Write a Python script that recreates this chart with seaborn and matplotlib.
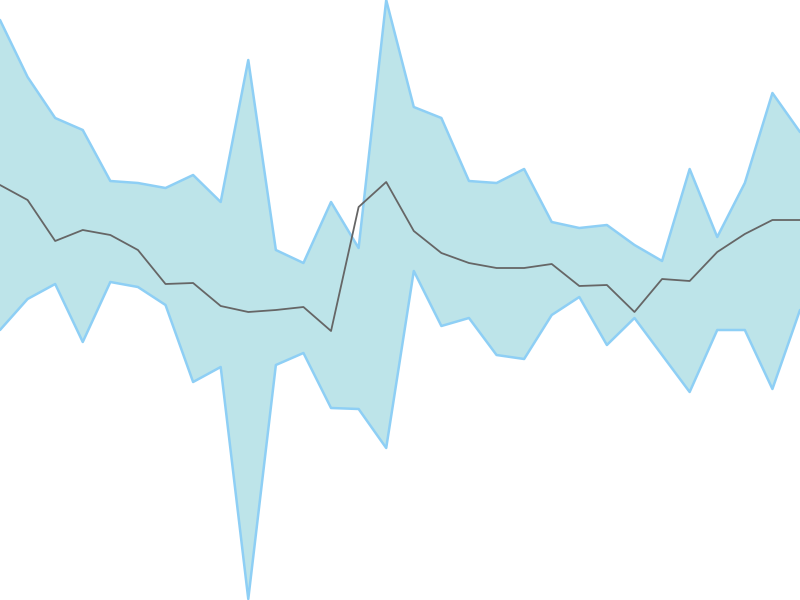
import numpy as np
import pandas as pd
import matplotlib
matplotlib.use("Agg")
import matplotlib.pyplot as plt
import seaborn as sns

# values (higher = further up)
steps = list(range(30))
upper = [580, 523, 482, 470, 419, 417, 412, 425, 398, 540,
         350, 337, 398, 352, 600, 493, 482, 419, 417, 431,
         378, 372, 375, 355, 339, 431, 363, 417, 507, 468]
mean = [415, 400, 359, 370, 365, 350, 316, 317, 294, 288,
        290, 293, 269, 393, 418, 369, 347, 337, 332, 332,
        336, 314, 315, 288, 321, 319, 348, 366, 380, 380]
lower = [270, 301, 316, 258, 318, 313, 295, 218, 233, 1,
         235, 247, 192, 191, 152, 329, 274, 282, 245, 241,
         285, 303, 255, 282, 245, 208, 270, 270, 211, 290]

df = pd.DataFrame({"step": steps, "upper": upper, "mean": mean, "lower": lower})

sns.set_style("white")
fig = plt.figure(figsize=(8, 6), dpi=100)
ax = fig.add_axes([0, 0, 1, 1])

# shaded band
ax.fill_between(df["step"], df["lower"], df["upper"], color="#bde4e9", linewidth=0, zorder=1)
sns.lineplot(data=df, x="step", y="upper", ax=ax, color="#8ecff5", linewidth=1.8, zorder=2)
sns.lineplot(data=df, x="step", y="lower", ax=ax, color="#8ecff5", linewidth=1.8, zorder=2)
# central line
sns.lineplot(data=df, x="step", y="mean", ax=ax, color="#666666", linewidth=1.3, zorder=3)

ax.set_xlim(0, 29)
ax.set_ylim(0, 600)
ax.set_axis_off()

fig.savefig("out.png", dpi=100, facecolor="white")
